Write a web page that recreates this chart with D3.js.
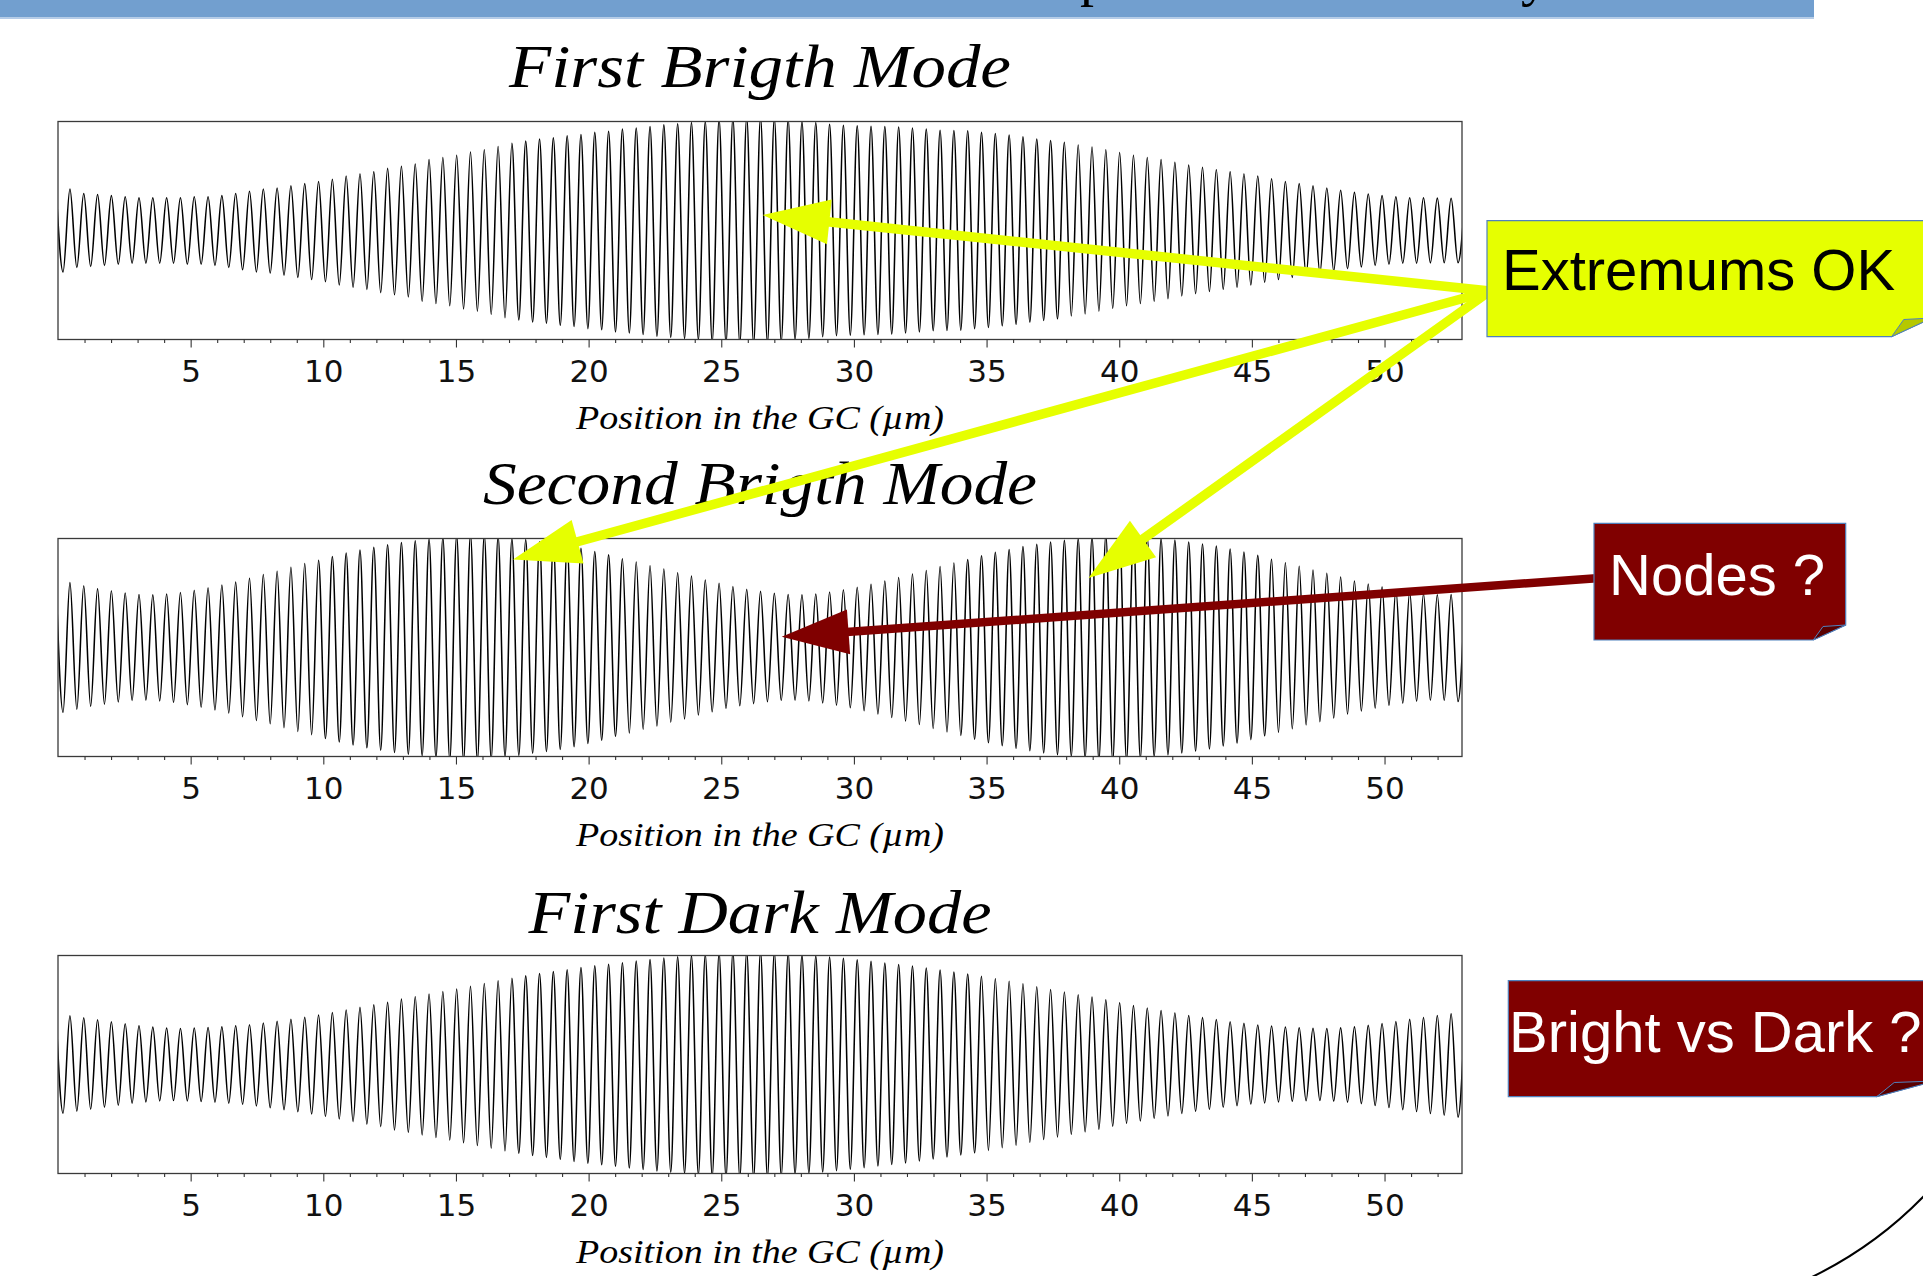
<!DOCTYPE html>
<html><head><meta charset="utf-8">
<script src="https://cdn.jsdelivr.net/npm/d3@7"></script>
<style>html,body{margin:0;padding:0;background:#fff;overflow:hidden}</style>
</head><body>
<svg id="c" width="1923" height="1276" xmlns="http://www.w3.org/2000/svg"></svg>
<script>
// ---------------- data ----------------
const panelTitles = ["First Brigth Mode", "Second Brigth Mode", "First Dark Mode"];
const xAxisLabel = "Position in the GC (\u00b5m)";
const xTickLabels = [5, 10, 15, 20, 25, 30, 35, 40, 45, 50];
const xDomain = [0, 52.92];
// carrier: position of the first maximum and spacing between maxima (µm)
const firstPeakPosition = 0.45;
const carrierPeriod = 0.5206;
// amplitude of each oscillation (trough before it and its maximum), fraction of half panel height
const firstBrightAmplitudes = [
  0.38,0.34,0.33,0.32,0.31,0.30,0.30,0.30,0.30,0.31,
  0.31,0.32,0.34,0.36,0.38,0.39,0.41,0.43,0.45,0.47,
  0.50,0.52,0.54,0.57,0.59,0.61,0.65,0.67,0.69,0.72,
  0.74,0.77,0.80,0.82,0.84,0.85,0.87,0.88,0.90,0.91,
  0.93,0.94,0.955,0.97,0.98,0.99,1.00,1.02,1.03,1.04,
  1.04,1.03,1.02,1.00,0.99,0.975,0.965,0.96,0.957,0.955,
  0.95,0.94,0.93,0.92,0.917,0.915,0.90,0.89,0.875,0.86,
  0.84,0.825,0.81,0.785,0.765,0.74,0.715,0.69,0.67,0.65,
  0.625,0.60,0.58,0.56,0.54,0.52,0.50,0.475,0.45,0.43,
  0.41,0.39,0.37,0.35,0.335,0.32,0.31,0.30,0.30,0.297,
  0.296,0.296];
const secondBrightAmplitudes = [
  0.595,0.567,0.54,0.52,0.50,0.487,0.483,0.49,0.505,0.525,
  0.548,0.574,0.60,0.635,0.67,0.70,0.735,0.77,0.80,0.835,
  0.867,0.895,0.92,0.942,0.963,0.98,0.995,1.01,1.03,1.04,
  1.035,1.02,1.00,0.99,0.97,0.955,0.935,0.91,0.88,0.85,
  0.815,0.785,0.75,0.72,0.685,0.655,0.62,0.59,0.56,0.535,
  0.515,0.497,0.486,0.484,0.49,0.51,0.53,0.553,0.58,0.61,
  0.643,0.675,0.707,0.742,0.775,0.806,0.842,0.874,0.90,0.926,
  0.947,0.967,0.983,0.998,1.015,1.032,1.04,1.033,1.016,1.00,
  0.985,0.968,0.95,0.93,0.903,0.877,0.845,0.81,0.778,0.746,
  0.71,0.68,0.647,0.61,0.582,0.556,0.532,0.511,0.494,0.484,
  0.485,0.496];
const firstDarkAmplitudes = [
  0.447,0.428,0.41,0.392,0.373,0.355,0.343,0.334,0.331,0.334,
  0.34,0.345,0.355,0.365,0.38,0.397,0.415,0.434,0.455,0.477,
  0.50,0.524,0.547,0.57,0.60,0.622,0.646,0.67,0.693,0.718,
  0.744,0.767,0.792,0.813,0.834,0.852,0.87,0.89,0.906,0.92,
  0.933,0.949,0.964,0.977,0.988,0.998,1.01,1.025,1.033,1.04,
  1.04,1.032,1.022,1.008,0.997,0.986,0.974,0.96,0.946,0.93,
  0.917,0.903,0.885,0.867,0.848,0.83,0.81,0.788,0.763,0.74,
  0.713,0.688,0.665,0.64,0.618,0.593,0.567,0.54,0.519,0.495,
  0.472,0.45,0.43,0.412,0.393,0.378,0.363,0.353,0.344,0.338,
  0.333,0.331,0.336,0.345,0.359,0.377,0.395,0.414,0.432,0.45,
  0.466,0.483];
const calloutTexts = ["Extremums OK", "Nodes ?", "Bright vs Dark ?"];

// ---------------- layout ----------------
const W = 1923, H = 1276;
const plotLeft = 58, plotRight = 1462, plotH = 218;
const panelTops = [121.5, 538.5, 955.5];
const titleWidths = [502, 554, 463];
const titleGaps = [35, 35, 23];
const series = [firstBrightAmplitudes, secondBrightAmplitudes, firstDarkAmplitudes];

const svg = d3.select("#c");
const defs = svg.append("defs");

// top slide band
svg.append("rect").attr("x", 0).attr("y", 0).attr("width", 1814).attr("height", 17.5).attr("fill", "#729fcf");
svg.append("rect").attr("x", 0).attr("y", 17.5).attr("width", 1814).attr("height", 1.5).attr("fill", "#b4cbe8");
svg.append("text").attr("x", 1080).attr("y", -5).attr("font-family", "Liberation Serif").attr("font-size", 56).attr("fill", "#000").text("p");
svg.append("text").attr("x", 1521).attr("y", -5).attr("font-family", "Liberation Serif").attr("font-size", 56).attr("fill", "#000").text("y");

const x = d3.scaleLinear().domain(xDomain).range([plotLeft, plotRight]);

function tracePoints(amps) {
  const pts = [[firstPeakPosition - carrierPeriod, amps[0]]];
  amps.forEach((a, i) => {
    pts.push([firstPeakPosition + (i - 0.5) * carrierPeriod, -a]);
    pts.push([firstPeakPosition + i * carrierPeriod, a]);
  });
  return pts;
}

series.forEach((amps, k) => {
  const top = panelTops[k];
  const y = d3.scaleLinear().domain([-1, 1]).range([top + plotH, top]);
  const g = svg.append("g");

  defs.append("clipPath").attr("id", "clip" + k)
    .append("rect").attr("x", plotLeft).attr("y", top).attr("width", plotRight - plotLeft).attr("height", plotH);

  const line = d3.line().x(d => x(d[0])).y(d => y(d[1])).curve(d3.curveMonotoneX);
  g.append("path").datum(tracePoints(amps))
    .attr("d", line).attr("fill", "none").attr("stroke", "#000").attr("stroke-width", 1.55)
    .attr("clip-path", `url(#clip${k})`);

  g.append("rect").attr("x", plotLeft).attr("y", top).attr("width", plotRight - plotLeft).attr("height", plotH)
    .attr("fill", "none").attr("stroke", "#3a3a3a").attr("stroke-width", 1.3);

  const minor = g.append("g").attr("transform", `translate(0,${top + plotH})`)
    .call(d3.axisBottom(x).tickValues(d3.range(1, 53).filter(v => v % 5 !== 0)).tickSize(3.5).tickFormat(""));
  minor.select(".domain").remove();
  minor.selectAll(".tick line").attr("stroke", "#333").attr("stroke-width", 1.1);

  const major = g.append("g").attr("transform", `translate(0,${top + plotH})`)
    .call(d3.axisBottom(x).tickValues(xTickLabels).tickSize(8).tickPadding(12).tickFormat(d3.format("d")));
  major.select(".domain").remove();
  major.selectAll(".tick line").attr("stroke", "#333").attr("stroke-width", 1.1);
  major.selectAll(".tick text").attr("font-family", "DejaVu Sans").attr("font-size", 31).attr("fill", "#111");

  g.append("text").attr("x", (plotLeft + plotRight) / 2).attr("y", top - titleGaps[k])
    .attr("text-anchor", "middle").attr("font-family", "Liberation Serif").attr("font-style", "italic")
    .attr("font-size", 62).attr("fill", "#000")
    .attr("textLength", titleWidths[k]).attr("lengthAdjust", "spacingAndGlyphs")
    .text(panelTitles[k]);

  g.append("text").attr("x", (plotLeft + plotRight) / 2).attr("y", top + plotH + 89)
    .attr("text-anchor", "middle").attr("font-family", "Liberation Serif").attr("font-style", "italic")
    .attr("font-size", 34).attr("fill", "#000")
    .attr("textLength", 368).attr("lengthAdjust", "spacingAndGlyphs")
    .text(xAxisLabel);
});

// arrows
function arrow(tail, tip, color, width) {
  const dx = tail[0] - tip[0], dy = tail[1] - tip[1];
  const L = Math.hypot(dx, dy), ux = dx / L, uy = dy / L;
  const hl = 67, hw = 22.5;
  const bx = tip[0] + ux * hl, by = tip[1] + uy * hl;
  svg.append("line").attr("x1", tail[0]).attr("y1", tail[1]).attr("x2", bx - ux * 2).attr("y2", by - uy * 2)
    .attr("stroke", color).attr("stroke-width", width);
  svg.append("polygon")
    .attr("points", [[tip[0], tip[1]], [bx - uy * hw, by + ux * hw], [bx + uy * hw, by - ux * hw]].map(p => p.join(",")).join(" "))
    .attr("fill", color);
}
const yellow = "#e6ff00", darkRed = "#800000";
arrow([1490, 291], [762.7, 215], yellow, 9.5);
arrow([1490, 291], [513, 559.5], yellow, 9.5);
arrow([1490, 291], [1088.5, 578], yellow, 9.5);
arrow([1600, 578], [781.7, 636.7], darkRed, 8.5);

// callout boxes
function callout(left, top, right, bottom, cutX, cutY, fill, foldFill, txt, tx, ty, tcolor) {
  svg.append("path")
    .attr("d", `M${left},${top}H${right}V${cutY}L${cutX},${bottom}H${left}Z`)
    .attr("fill", fill).attr("stroke", "#4f81bd").attr("stroke-width", 1.2);
  svg.append("path")
    .attr("d", `M${cutX},${bottom}L${cutX + (right - cutX) * 0.3},${cutY + 1.5}L${right},${cutY}Z`)
    .attr("fill", foldFill).attr("stroke", "#4f81bd").attr("stroke-width", 1);
  svg.append("text").attr("x", tx).attr("y", ty).attr("font-family", "Liberation Sans")
    .attr("font-size", 58).attr("fill", tcolor).text(txt);
}
callout(1487, 220.7, 1932, 336.7, 1891.6, 318, yellow, "#b5c800", calloutTexts[0], 1502, 290, "#000");
callout(1594, 523.3, 1845.7, 640, 1813.3, 625, darkRed, "#5a0000", calloutTexts[1], 1609, 595, "#fff");
callout(1508.3, 980.7, 1935, 1096.7, 1876.7, 1081, darkRed, "#5a0000", calloutTexts[2], 1509, 1051.7, "#fff");

// arc in the bottom right corner
svg.append("path").attr("d", "M1812,1277 A401,401 0 0 0 1924,1196")
  .attr("fill", "none").attr("stroke", "#000").attr("stroke-width", 2);
</script>
</body></html>
